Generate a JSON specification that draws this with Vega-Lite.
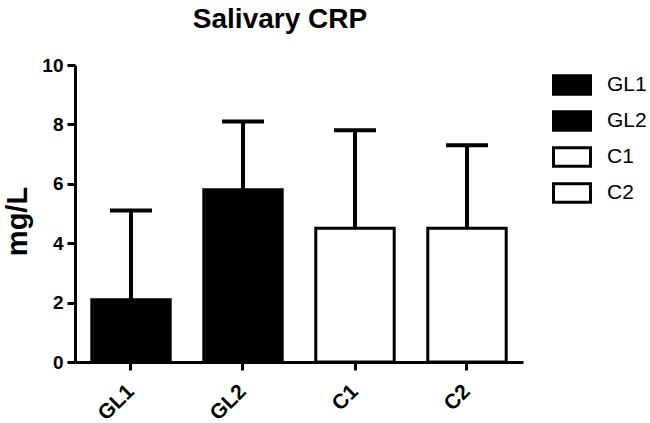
{
  "$schema": "https://vega.github.io/schema/vega-lite/v6.json",
  "width": 448,
  "height": 297,
  "autosize": {"type": "none"},
  "padding": {"left": 75, "top": 65, "right": 127, "bottom": 61},
  "background": "white",
  "title": {"text": "Salivary CRP", "font": "Liberation Sans", "fontSize": 28, "fontWeight": "bold", "color": "black", "anchor": "middle", "dx": -19, "offset": 22},
  "config": {"view": {"stroke": null}},
  "data": {"values": [
    {"group": "GL1", "mean": 2.1, "upper": 5.1},
    {"group": "GL2", "mean": 5.8, "upper": 8.1},
    {"group": "C1", "mean": 4.5, "upper": 7.8},
    {"group": "C2", "mean": 4.5, "upper": 7.3}
  ]},
  "encoding": {
    "x": {"field": "group", "type": "nominal", "sort": ["GL1", "GL2", "C1", "C2"],
      "scale": {"paddingInner": 0.3, "paddingOuter": 0.15},
      "axis": {"title": null, "labelAngle": -45, "labelAlign": "right", "labelBaseline": "middle", "labelFont": "Liberation Sans", "labelFontSize": 21, "labelFontWeight": "bold", "labelColor": "black", "labelPadding": 18, "tickSize": 8, "tickWidth": 3, "tickColor": "black", "domainColor": "black", "domainWidth": 3, "grid": false}
    }
  },
  "layer": [
    {"mark": {"type": "rule", "strokeWidth": 4, "color": "black"},
      "encoding": {"y": {"field": "mean", "type": "quantitative"}, "y2": {"field": "upper"}}},
    {"mark": {"type": "tick", "thickness": 4, "size": 42, "color": "black", "opacity": 1},
      "encoding": {"y": {"field": "upper", "type": "quantitative"}}},
    {"mark": {"type": "bar", "stroke": "black", "strokeWidth": 3},
      "encoding": {
        "y": {"field": "mean", "type": "quantitative", "scale": {"domain": [0, 10], "nice": false},
          "axis": {"title": "mg/L", "titleFont": "Liberation Sans", "titleFontSize": 29, "titleFontWeight": "bold", "titleColor": "black", "titlePadding": 9, "titleY": 156, "values": [0, 2, 4, 6, 8, 10], "labelFont": "Liberation Sans", "labelFontSize": 19, "labelFontWeight": "bold", "labelColor": "black", "labelPadding": 4, "tickSize": 8, "tickWidth": 3, "tickColor": "black", "domainColor": "black", "domainWidth": 3, "grid": false}},
        "fill": {"field": "group", "type": "nominal", "sort": ["GL1", "GL2", "C1", "C2"],
          "scale": {"domain": ["GL1", "GL2", "C1", "C2"], "range": ["black", "black", "white", "white"]},
          "legend": {"title": null, "orient": "none", "legendX": 477, "legendY": 0, "padding": 0, "symbolType": "M-1,-0.5H1V0.5H-1Z", "symbolSize": 1369, "symbolStrokeColor": "black", "symbolStrokeWidth": 3, "symbolOpacity": 1, "labelFont": "Liberation Sans", "labelFontSize": 21, "labelColor": "black", "labelOffset": 15, "rowPadding": -1}}
      }}
  ]
}
